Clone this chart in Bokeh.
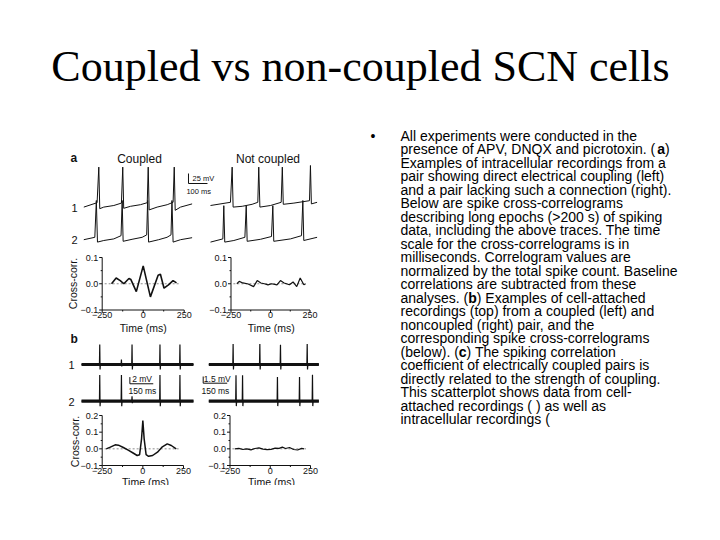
import math
from bokeh.plotting import figure
from bokeh.models import Range1d
from bokeh.core.properties import value
from bokeh.embed import file_html
from bokeh.resources import INLINE

# ---------------- data ----------------
TITLE = "Coupled vs non-coupled SCN cells"
BODY = [
    "All experiments were conducted in the",
    "presence of APV, DNQX and picrotoxin. (**a**)",
    "Examples of intracellular recordings from a",
    "pair showing direct electrical coupling (left)",
    "and a pair lacking such a connection (right).",
    "Below are spike cross-correlograms",
    "describing long epochs (>200 s) of spiking",
    "data, including the above traces. The time",
    "scale for the cross-correlograms is in",
    "milliseconds. Correlogram values are",
    "normalized by the total spike count. Baseline",
    "correlations are subtracted from these",
    "analyses. (**b**) Examples of cell-attached",
    "recordings (top) from a coupled (left) and",
    "noncoupled (right) pair, and the",
    "corresponding spike cross-correlograms",
    "(below). (**c**) The spiking correlation",
    "coefficient of electrically coupled pairs is",
    "directly related to the strength of coupling.",
    "This scatterplot shows data from cell-",
    "attached recordings ( ) as well as",
    "intracellular recordings (",
]
PANEL_LETTERS = ["a", "b"]
PAIR_HEADERS = ["Coupled", "Not coupled"]
CELL_LABELS = ["1", "2"]

# (a) intracellular traces: time (ms), membrane potential (mV, relative)
a_c1_t = [0, 70, 79, 84, 105, 158, 198, 205, 210, 246, 298, 334, 339, 344, 386, 439, 470, 476, 481, 509, 570]
a_c1_v = [-4, 7, 96, -8, -4, 0, 6, 96, -7, -2, 2, 7, 96, -11, -4, 2, 8, 96, -12, -4, 4]
a_c2_t = [0, 58, 66, 72, 105, 158, 196, 202, 207, 254, 307, 331, 336, 341, 394, 438, 459, 464, 470, 509, 570]
a_c2_v = [-3, 3, 95, -9, -5, -1, 7, 95, -7, -2, 3, 9, 95, -9, -3, 3, 9, 95, -9, -3, 2]
a_n1_t = [0, 105, 114, 119, 167, 219, 249, 254, 260, 316, 372, 378, 383, 439, 521, 526, 531, 561]
a_n1_v = [0, 8, 96, -4, -2, 3, 8, 96, -4, 0, 8, 96, 3, 6, 12, 100, 4, 8]
a_n2_t = [0, 65, 70, 75, 123, 181, 188, 193, 263, 321, 328, 333, 421, 479, 486, 491, 561]
a_n2_v = [-9, -1, 82, -9, -5, 3, 82, -7, -2, 5, 82, -7, -1, 7, 95, -5, 3]

# (a) cross-correlograms
cc_ac_t = [-193, -165, -140, -118, -87, -75, -42, 0, 44, 91, 105, 127, 154, 182, 203]
cc_ac_v = [0.0, 0.022, 0.012, 0.0, 0.020, 0.016, -0.030, 0.068, -0.050, 0.032, 0.036, -0.017, -0.004, 0.012, 0.003]
cc_an_t = [-213, -198, -175, -141, -107, -84, -61, -39, -16, 7, 41, 63, 86, 120, 143, 166, 188, 211, 222]
cc_an_v = [0.0, 0.009, 0.003, -0.001, -0.011, 0.012, 0.003, 0.0, -0.004, 0.0, -0.004, 0.012, 0.003, -0.004, 0.007, -0.011, 0.022, -0.004, 0.0]

# (b) cell-attached recordings: spike times (ms) and amplitudes (mV)
b_c1_spk = [117, 324, 503, 631]
b_c1_amp = [6.0, 6.0, 6.0, 6.0]
b_c1_blip = [256]
b_c2_spk = [117, 256, 503, 631]
b_c2_amp = [7.8, 7.8, 7.8, 7.8]
b_c2_blip = [324]
b_c_end = 718
b_n1_spk = [152, 319, 448, 615]
b_n1_amp = [4.6, 4.6, 4.4, 4.6]
b_n2_spk = [170, 211, 429, 567, 648]
b_n2_amp = [5.8, 5.8, 5.4, 5.4, 5.9]
b_n_end = 688

# (b) cross-correlograms
cc_bc_t = [-225, -200, -170, -150, -120, -90, -60, -35, -20, -8, 0, 8, 20, 35, 60, 90, 120, 150, 175, 205]
cc_bc_v = [0.0, 0.01, 0.024, 0.022, 0.008, -0.008, -0.025, -0.04, -0.035, 0.06, 0.17, 0.06, -0.035, -0.045, -0.04, -0.02, 0.012, 0.03, 0.02, 0.0]
cc_bn_t = [-220, -195, -170, -145, -120, -95, -70, -45, -20, 5, 30, 55, 75, 95, 120, 145, 170, 195, 210]
cc_bn_v = [0.0, 0.003, -0.004, 0.0, -0.006, 0.002, 0.006, -0.002, -0.005, -0.003, 0.004, 0.003, 0.01, 0.002, 0.008, -0.004, -0.007, 0.003, 0.0]

X_TICKS = [-250, 0, 250]
X_TICK_LABELS = ["\u2212250", "0", "250"]
X_MINOR = [-125, 125]
A_Y_TICKS = [-0.1, 0.0, 0.1]
A_Y_LABELS = ["\u22120.1", "0.0", "0.1"]
A_Y_MINOR = [-0.05, 0.05]
B_Y_TICKS = [-0.1, 0.0, 0.1, 0.2]
B_Y_LABELS = ["\u22120.1", "0.0", "0.1", "0.2"]
B_Y_MINOR = [-0.05, 0.05, 0.15]

# ---------------- canvas (page pixel coordinates) ----------------
SANS = value("Liberation Sans")
SERIF = value("Liberation Serif")
INK = "#111111"
CW, CH = 712, 532

p = figure(width=CW, height=CH, x_range=Range1d(0, CW), y_range=Range1d(CH, 0),
           output_backend="svg", toolbar_location=None, min_border=0,
           x_axis_type=None, y_axis_type=None)
p.outline_line_color = None
p.background_fill_color = "white"
p.border_fill_color = "white"


def panel(name, t0, t1, x0, x1, v0, v1, y0, y1):
    sx = (x1 - x0) / (t1 - t0)
    sy = (y0 - y1) / (v1 - v0)
    p.extra_x_ranges[name] = Range1d(t0 + (0 - x0) / sx, t0 + (CW - x0) / sx)
    p.extra_y_ranges[name] = Range1d(v0 + (y0 - CH) / sy, v0 + (y0 - 0) / sy)
    return sx, sy


def rn(name):
    return {} if name is None else dict(x_range_name=name, y_range_name=name)


def txt(name, x, y, s, size, align="left", baseline="middle", bold=False,
        font=SANS, xo=0, yo=0, angle=0.0, color=INK):
    p.text(x=[x], y=[y], text=[s], text_font=font, text_font_size=value(f"{size}px"),
           text_align=align, text_baseline=baseline,
           text_font_style="bold" if bold else "normal",
           x_offset=xo, y_offset=yo, angle=angle, text_color=color, **rn(name))


# ---- title ----
txt(None, 360, 66, TITLE, 44, align="center", font=SERIF, color="black")

# ---- body text (Arial/Helvetica advance widths, 1/1000 em) ----
W = {' ': 278, '(': 333, ')': 333, ',': 278, '-': 333, '.': 278, '>': 584,
     'A': 667, 'B': 667, 'C': 722, 'D': 722, 'E': 667, 'N': 722, 'P': 667, 'Q': 778,
     'T': 611, 'V': 667, 'X': 667,
     'a': 556, 'b': 556, 'c': 500, 'd': 556, 'e': 556, 'f': 278, 'g': 556, 'h': 556,
     'i': 222, 'k': 500, 'l': 222, 'm': 833, 'n': 556, 'o': 556, 'p': 556, 'r': 333,
     's': 500, 't': 278, 'u': 556, 'v': 500, 'w': 722, 'x': 500, 'y': 500, 'z': 500}
for d in "0123456789":
    W[d] = 556
WB = {'a': 556, 'b': 611, 'c': 556}
BODY_SIZE = 14
BODY_X = 400
BODY_Y0 = 135
BODY_DY = 13.5

txt(None, 370, BODY_Y0, "\u2022", BODY_SIZE, color="black")
for i, line in enumerate(BODY):
    y = BODY_Y0 + i * BODY_DY
    x = BODY_X
    for k, part in enumerate(line.split("**")):
        if not part:
            continue
        bold = (k % 2 == 1)
        txt(None, x, y, part, BODY_SIZE, bold=bold, color="black")
        table = WB if bold else W
        x += sum(table.get(ch, 556) for ch in part) * BODY_SIZE / 1000.0

# ---- panel letters / headers ----
txt(None, 70, 157, PANEL_LETTERS[0], 12, bold=True)
txt(None, 70, 338, PANEL_LETTERS[1], 12, bold=True)
txt(None, 139, 158, PAIR_HEADERS[0], 12, align="center")
txt(None, 267.5, 158, PAIR_HEADERS[1], 12, align="center")
for lab, y in zip(CELL_LABELS, [207, 239]):
    txt(None, 74, y, lab, 11, align="center")
for lab, y in zip(CELL_LABELS, [364, 401]):
    txt(None, 71, y, lab, 11, align="center")

# ---- (a) intracellular traces ----
panel("ac1", 0, 100, 83.3, 102.3, 0, 25, 205, 195)
panel("ac2", 0, 100, 83.3, 102.3, 0, 25, 238, 228)
panel("an1", 0, 100, 210, 229, 0, 25, 205, 195)
panel("an2", 0, 100, 210, 229, 0, 25, 238, 228)
for nm, t, v in [("ac1", a_c1_t, a_c1_v), ("ac2", a_c2_t, a_c2_v),
                 ("an1", a_n1_t, a_n1_v), ("an2", a_n2_t, a_n2_v)]:
    p.line(t, v, line_color=INK, line_width=1.0, **rn(nm))
# scale bar 25 mV / 100 ms
p.line([551, 551, 651], [80, 55, 55], line_color=INK, line_width=1.0, **rn("ac1"))
txt("ac1", 572, 67.5, "25 mV", 7.5)
txt("ac1", 540, 35, "100 ms", 7.5)

# ---- (b) cell-attached traces ----
panel("bc1", 0, 150, 81, 104.4, 0, 2, 364, 357.3)
panel("bc2", 0, 150, 81, 104.4, 0, 2, 400.7, 394)
panel("bn1", 0, 150, 208.3, 232.3, 0, 1.5, 364, 357.3)
panel("bn2", 0, 150, 208.3, 232.3, 0, 1.5, 400.7, 394)


def spiky(t_end, spikes, amps, blips, neg):
    ev = sorted([(s, a, neg) for s, a in zip(spikes, amps)] +
                [(s, 1.5, 0.6) for s in blips])
    ts, vs = [0], [0]
    for s, a, n in ev:
        ts += [s - 2, s, s + 2, s + 4]
        vs += [0, a, -n, 0]
    ts.append(t_end)
    vs.append(0)
    return ts, vs


for nm, end, spk, amp, bl, neg in [("bc1", b_c_end, b_c1_spk, b_c1_amp, b_c1_blip, 1.5),
                                   ("bc2", b_c_end, b_c2_spk, b_c2_amp, b_c2_blip, 1.5),
                                   ("bn1", b_n_end, b_n1_spk, b_n1_amp, [], 1.1),
                                   ("bn2", b_n_end, b_n2_spk, b_n2_amp, [], 1.1)]:
    p.line([0, end], [0, 0], line_color=INK, line_width=3.2, **rn(nm))
    ts, vs = spiky(end, spk, amp, bl, neg)
    p.line(ts, vs, line_color=INK, line_width=1.2, **rn(nm))

p.line([310, 310, 460], [7.2, 5.2, 5.2], line_color=INK, line_width=1.0, **rn("bc2"))
txt("bc2", 325, 6.5, "2 mV", 8.5)
txt("bc2", 301, 3.0, "150 ms", 8.5)
p.line([-35, -35, 115], [5.53, 4.03, 4.03], line_color=INK, line_width=1.0, **rn("bn2"))
txt("bn2", -31, 5.0, "1.5 mV", 8.5)
txt("bn2", -46, 2.2, "150 ms", 8.5)

# ---- cross-correlograms ----


def correlogram(name, sx, sy, t, v, yt, ylab, yminor, lw):
    ymin, ymax = yt[0], yt[-1]
    kw = rn(name)
    p.line([-250, -250], [ymin, ymax], line_color=INK, line_width=1.0, **kw)
    p.line([-250, 250], [ymin, ymin], line_color=INK, line_width=1.0, **kw)
    p.segment(x0=[-250] * len(yt), y0=yt, x1=[-250 - 3 / sx] * len(yt), y1=yt,
              line_color=INK, line_width=1.0, **kw)
    p.segment(x0=[-250] * len(yminor), y0=yminor, x1=[-250 - 1.5 / sx] * len(yminor), y1=yminor,
              line_color=INK, line_width=1.0, **kw)
    p.segment(x0=X_TICKS, y0=[ymin] * 3, x1=X_TICKS, y1=[ymin - 3 / sy] * 3,
              line_color=INK, line_width=1.0, **kw)
    p.segment(x0=X_MINOR, y0=[ymin] * 2, x1=X_MINOR, y1=[ymin - 1.5 / sy] * 2,
              line_color=INK, line_width=1.0, **kw)
    p.text(x=[-250] * len(yt), y=yt, text=ylab, text_font=SANS, text_font_size=value("9px"),
           text_align="right", text_baseline="middle", x_offset=-4, text_color=INK, **kw)
    p.text(x=X_TICKS, y=[ymin] * 3, text=X_TICK_LABELS, text_font=SANS,
           text_font_size=value("9px"), text_align="center", text_baseline="top",
           y_offset=2, text_color=INK, **kw)
    p.line([-235, 222], [0, 0], line_color="#8c8c8c", line_width=1.0, line_dash="2 2", **kw)
    p.line(t, v, line_color=INK, line_width=lw, **kw)


sx, sy = panel("cac", -250, 250, 101.7, 183.7, -0.1, 0.1, 309.5, 257)
correlogram("cac", sx, sy, cc_ac_t, cc_ac_v, A_Y_TICKS, A_Y_LABELS, A_Y_MINOR, 1.6)
sx, sy = panel("can", -250, 250, 230.5, 309.5, -0.1, 0.1, 309.5, 257)
correlogram("can", sx, sy, cc_an_t, cc_an_v, A_Y_TICKS, A_Y_LABELS, A_Y_MINOR, 1.2)
sx, sy = panel("cbc", -250, 250, 101.7, 183, -0.1, 0.2, 465, 415)
correlogram("cbc", sx, sy, cc_bc_t, cc_bc_v, B_Y_TICKS, B_Y_LABELS, B_Y_MINOR, 1.5)
sx, sy = panel("cbn", -250, 250, 229.5, 310, -0.1, 0.2, 465, 415)
correlogram("cbn", sx, sy, cc_bn_t, cc_bn_v, B_Y_TICKS, B_Y_LABELS, B_Y_MINOR, 1.2)

# axis titles
for x in (142.7, 270.7):
    txt(None, x, 327, "Time (ms)", 10.5, align="center")
for x in (145, 271):
    txt(None, x, 481.5, "Time (ms)", 10.5, align="center")
txt(None, 72.5, 283, "Cross-corr.", 10.5, align="center", angle=math.pi / 2)
txt(None, 74.5, 441, "Cross-corr.", 10.5, align="center", angle=math.pi / 2)

# the figure image is cropped just below panel b
p.quad(left=[60], right=[340], top=[484.5], bottom=[CH], fill_color="white", line_color=None)

open("out.html", "w").write(file_html(p, INLINE))
